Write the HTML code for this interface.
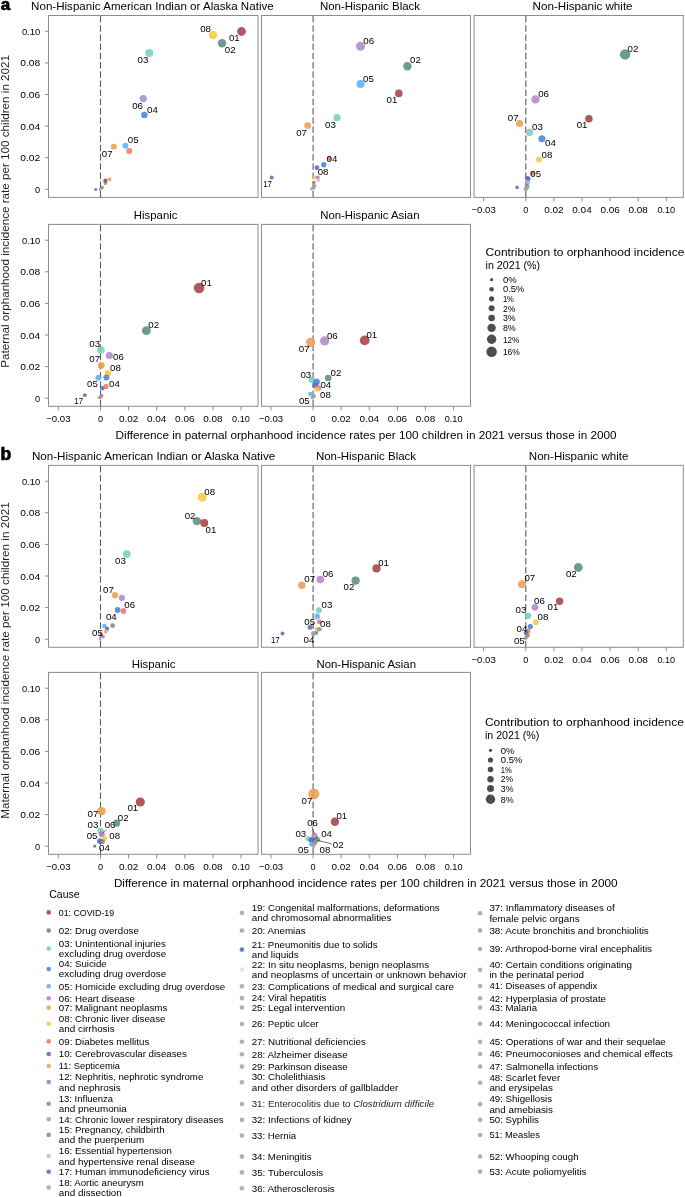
<!DOCTYPE html>
<html><head><meta charset="utf-8"><style>
html,body{margin:0;padding:0;background:#fff;width:685px;height:1197px;overflow:hidden}
svg{display:block;will-change:transform}
text{font-family:"Liberation Sans",sans-serif}
</style></head><body>
<svg width="685" height="1197" viewBox="0 0 685 1197" font-family="Liberation Sans, sans-serif">
<rect width="685" height="1197" fill="#fff"/>
<text x="0.7" y="9.6" font-size="17" font-weight="bold" fill="#000" stroke="#000" stroke-width="0.7">a</text>
<text x="31.10" y="10.00" font-size="10.5" textLength="242.60" lengthAdjust="spacingAndGlyphs">Non-Hispanic American Indian or Alaska Native</text>
<text x="319.90" y="10.00" font-size="10.5" textLength="100.20" lengthAdjust="spacingAndGlyphs">Non-Hispanic Black</text>
<text x="532.60" y="10.00" font-size="10.5" textLength="100.00" lengthAdjust="spacingAndGlyphs">Non-Hispanic white</text>
<rect x="48.5" y="15.5" width="209.50" height="181.90" fill="none" stroke="#8c8c8c" stroke-width="1"/>
<line x1="100.5" y1="16.0" x2="100.5" y2="197.4" stroke="#5c5c5c" stroke-width="1.1" stroke-dasharray="6.5 2.7"/>
<line x1="45.0" y1="189.30" x2="48.5" y2="189.30" stroke="#8c8c8c" stroke-width="1"/>
<text x="40.20" y="192.85" font-size="9.5" text-anchor="end" textLength="5.10" lengthAdjust="spacingAndGlyphs">0</text>
<line x1="45.0" y1="157.70" x2="48.5" y2="157.70" stroke="#8c8c8c" stroke-width="1"/>
<text x="40.20" y="161.25" font-size="9.5" text-anchor="end" textLength="20.00" lengthAdjust="spacingAndGlyphs">0.02</text>
<line x1="45.0" y1="126.10" x2="48.5" y2="126.10" stroke="#8c8c8c" stroke-width="1"/>
<text x="40.20" y="129.65" font-size="9.5" text-anchor="end" textLength="20.00" lengthAdjust="spacingAndGlyphs">0.04</text>
<line x1="45.0" y1="94.50" x2="48.5" y2="94.50" stroke="#8c8c8c" stroke-width="1"/>
<text x="40.20" y="98.05" font-size="9.5" text-anchor="end" textLength="20.00" lengthAdjust="spacingAndGlyphs">0.06</text>
<line x1="45.0" y1="62.90" x2="48.5" y2="62.90" stroke="#8c8c8c" stroke-width="1"/>
<text x="40.20" y="66.45" font-size="9.5" text-anchor="end" textLength="20.00" lengthAdjust="spacingAndGlyphs">0.08</text>
<line x1="45.0" y1="31.30" x2="48.5" y2="31.30" stroke="#8c8c8c" stroke-width="1"/>
<text x="40.20" y="34.85" font-size="9.5" text-anchor="end" textLength="18.30" lengthAdjust="spacingAndGlyphs">0.10</text>
<rect x="261.5" y="15.5" width="209.00" height="181.90" fill="none" stroke="#8c8c8c" stroke-width="1"/>
<line x1="313.1" y1="16.0" x2="313.1" y2="197.4" stroke="#5c5c5c" stroke-width="1.1" stroke-dasharray="6.5 2.7"/>
<rect x="474.1" y="15.5" width="209.20" height="181.90" fill="none" stroke="#8c8c8c" stroke-width="1"/>
<line x1="525.8" y1="16.0" x2="525.8" y2="197.4" stroke="#5c5c5c" stroke-width="1.1" stroke-dasharray="6.5 2.7"/>
<line x1="483.65" y1="197.4" x2="483.65" y2="201.4" stroke="#8c8c8c" stroke-width="1"/>
<text x="483.65" y="212.90" font-size="9.5" text-anchor="middle" textLength="24.40" lengthAdjust="spacingAndGlyphs">−0.03</text>
<line x1="525.80" y1="197.4" x2="525.80" y2="201.4" stroke="#8c8c8c" stroke-width="1"/>
<text x="525.80" y="212.90" font-size="9.5" text-anchor="middle" textLength="5.10" lengthAdjust="spacingAndGlyphs">0</text>
<line x1="553.90" y1="197.4" x2="553.90" y2="201.4" stroke="#8c8c8c" stroke-width="1"/>
<text x="553.90" y="212.90" font-size="9.5" text-anchor="middle" textLength="19.40" lengthAdjust="spacingAndGlyphs">0.02</text>
<line x1="582.00" y1="197.4" x2="582.00" y2="201.4" stroke="#8c8c8c" stroke-width="1"/>
<text x="582.00" y="212.90" font-size="9.5" text-anchor="middle" textLength="19.40" lengthAdjust="spacingAndGlyphs">0.04</text>
<line x1="610.10" y1="197.4" x2="610.10" y2="201.4" stroke="#8c8c8c" stroke-width="1"/>
<text x="610.10" y="212.90" font-size="9.5" text-anchor="middle" textLength="19.40" lengthAdjust="spacingAndGlyphs">0.06</text>
<line x1="638.20" y1="197.4" x2="638.20" y2="201.4" stroke="#8c8c8c" stroke-width="1"/>
<text x="638.20" y="212.90" font-size="9.5" text-anchor="middle" textLength="19.40" lengthAdjust="spacingAndGlyphs">0.08</text>
<line x1="666.30" y1="197.4" x2="666.30" y2="201.4" stroke="#8c8c8c" stroke-width="1"/>
<text x="666.30" y="212.90" font-size="9.5" text-anchor="middle" textLength="17.80" lengthAdjust="spacingAndGlyphs">0.10</text>
<text x="133.80" y="218.80" font-size="10.5" textLength="43.70" lengthAdjust="spacingAndGlyphs">Hispanic</text>
<text x="320.20" y="218.80" font-size="10.5" textLength="99.30" lengthAdjust="spacingAndGlyphs">Non-Hispanic Asian</text>
<rect x="48.5" y="224.4" width="209.50" height="181.90" fill="none" stroke="#8c8c8c" stroke-width="1"/>
<line x1="100.5" y1="224.9" x2="100.5" y2="406.3" stroke="#5c5c5c" stroke-width="1.1" stroke-dasharray="6.5 2.7"/>
<line x1="45.0" y1="398.20" x2="48.5" y2="398.20" stroke="#8c8c8c" stroke-width="1"/>
<text x="40.20" y="401.75" font-size="9.5" text-anchor="end" textLength="5.10" lengthAdjust="spacingAndGlyphs">0</text>
<line x1="45.0" y1="366.60" x2="48.5" y2="366.60" stroke="#8c8c8c" stroke-width="1"/>
<text x="40.20" y="370.15" font-size="9.5" text-anchor="end" textLength="20.00" lengthAdjust="spacingAndGlyphs">0.02</text>
<line x1="45.0" y1="335.00" x2="48.5" y2="335.00" stroke="#8c8c8c" stroke-width="1"/>
<text x="40.20" y="338.55" font-size="9.5" text-anchor="end" textLength="20.00" lengthAdjust="spacingAndGlyphs">0.04</text>
<line x1="45.0" y1="303.40" x2="48.5" y2="303.40" stroke="#8c8c8c" stroke-width="1"/>
<text x="40.20" y="306.95" font-size="9.5" text-anchor="end" textLength="20.00" lengthAdjust="spacingAndGlyphs">0.06</text>
<line x1="45.0" y1="271.80" x2="48.5" y2="271.80" stroke="#8c8c8c" stroke-width="1"/>
<text x="40.20" y="275.35" font-size="9.5" text-anchor="end" textLength="20.00" lengthAdjust="spacingAndGlyphs">0.08</text>
<line x1="45.0" y1="240.20" x2="48.5" y2="240.20" stroke="#8c8c8c" stroke-width="1"/>
<text x="40.20" y="243.75" font-size="9.5" text-anchor="end" textLength="18.30" lengthAdjust="spacingAndGlyphs">0.10</text>
<line x1="58.35" y1="406.3" x2="58.35" y2="410.3" stroke="#8c8c8c" stroke-width="1"/>
<text x="58.35" y="421.80" font-size="9.5" text-anchor="middle" textLength="24.40" lengthAdjust="spacingAndGlyphs">−0.03</text>
<line x1="100.50" y1="406.3" x2="100.50" y2="410.3" stroke="#8c8c8c" stroke-width="1"/>
<text x="100.50" y="421.80" font-size="9.5" text-anchor="middle" textLength="5.10" lengthAdjust="spacingAndGlyphs">0</text>
<line x1="128.60" y1="406.3" x2="128.60" y2="410.3" stroke="#8c8c8c" stroke-width="1"/>
<text x="128.60" y="421.80" font-size="9.5" text-anchor="middle" textLength="19.40" lengthAdjust="spacingAndGlyphs">0.02</text>
<line x1="156.70" y1="406.3" x2="156.70" y2="410.3" stroke="#8c8c8c" stroke-width="1"/>
<text x="156.70" y="421.80" font-size="9.5" text-anchor="middle" textLength="19.40" lengthAdjust="spacingAndGlyphs">0.04</text>
<line x1="184.80" y1="406.3" x2="184.80" y2="410.3" stroke="#8c8c8c" stroke-width="1"/>
<text x="184.80" y="421.80" font-size="9.5" text-anchor="middle" textLength="19.40" lengthAdjust="spacingAndGlyphs">0.06</text>
<line x1="212.90" y1="406.3" x2="212.90" y2="410.3" stroke="#8c8c8c" stroke-width="1"/>
<text x="212.90" y="421.80" font-size="9.5" text-anchor="middle" textLength="19.40" lengthAdjust="spacingAndGlyphs">0.08</text>
<line x1="241.00" y1="406.3" x2="241.00" y2="410.3" stroke="#8c8c8c" stroke-width="1"/>
<text x="241.00" y="421.80" font-size="9.5" text-anchor="middle" textLength="17.80" lengthAdjust="spacingAndGlyphs">0.10</text>
<rect x="261.5" y="224.4" width="209.00" height="181.90" fill="none" stroke="#8c8c8c" stroke-width="1"/>
<line x1="313.1" y1="224.9" x2="313.1" y2="406.3" stroke="#5c5c5c" stroke-width="1.1" stroke-dasharray="6.5 2.7"/>
<line x1="270.95" y1="406.3" x2="270.95" y2="410.3" stroke="#8c8c8c" stroke-width="1"/>
<text x="270.95" y="421.80" font-size="9.5" text-anchor="middle" textLength="24.40" lengthAdjust="spacingAndGlyphs">−0.03</text>
<line x1="313.10" y1="406.3" x2="313.10" y2="410.3" stroke="#8c8c8c" stroke-width="1"/>
<text x="313.10" y="421.80" font-size="9.5" text-anchor="middle" textLength="5.10" lengthAdjust="spacingAndGlyphs">0</text>
<line x1="341.20" y1="406.3" x2="341.20" y2="410.3" stroke="#8c8c8c" stroke-width="1"/>
<text x="341.20" y="421.80" font-size="9.5" text-anchor="middle" textLength="19.40" lengthAdjust="spacingAndGlyphs">0.02</text>
<line x1="369.30" y1="406.3" x2="369.30" y2="410.3" stroke="#8c8c8c" stroke-width="1"/>
<text x="369.30" y="421.80" font-size="9.5" text-anchor="middle" textLength="19.40" lengthAdjust="spacingAndGlyphs">0.04</text>
<line x1="397.40" y1="406.3" x2="397.40" y2="410.3" stroke="#8c8c8c" stroke-width="1"/>
<text x="397.40" y="421.80" font-size="9.5" text-anchor="middle" textLength="19.40" lengthAdjust="spacingAndGlyphs">0.06</text>
<line x1="425.50" y1="406.3" x2="425.50" y2="410.3" stroke="#8c8c8c" stroke-width="1"/>
<text x="425.50" y="421.80" font-size="9.5" text-anchor="middle" textLength="19.40" lengthAdjust="spacingAndGlyphs">0.08</text>
<line x1="453.60" y1="406.3" x2="453.60" y2="410.3" stroke="#8c8c8c" stroke-width="1"/>
<text x="453.60" y="421.80" font-size="9.5" text-anchor="middle" textLength="17.80" lengthAdjust="spacingAndGlyphs">0.10</text>
<text x="115.60" y="438.60" font-size="10.5" textLength="501.00" lengthAdjust="spacingAndGlyphs">Difference in paternal orphanhood incidence rates per 100 children in 2021 versus those in 2000</text>
<text transform="translate(9.3 211.4) rotate(-90)" font-size="10.5" text-anchor="middle" textLength="312.8" lengthAdjust="spacingAndGlyphs" fill="#1e1e1e">Paternal orphanhood incidence rate per 100 children in 2021</text>
<circle cx="241.5" cy="31.5" r="4.4" fill="#A43D42" fill-opacity="0.86"/>
<circle cx="213.1" cy="35.0" r="4.2" fill="#F3C83F" fill-opacity="0.86"/>
<circle cx="222.1" cy="43.2" r="4.2" fill="#55897F" fill-opacity="0.86"/>
<circle cx="149.3" cy="53.0" r="4.0" fill="#74CDC1" fill-opacity="0.86"/>
<circle cx="143.3" cy="98.6" r="3.6" fill="#AF86C6" fill-opacity="0.86"/>
<circle cx="144.4" cy="115.0" r="3.3" fill="#4582D5" fill-opacity="0.86"/>
<circle cx="125.4" cy="145.7" r="3.0" fill="#56B0F5" fill-opacity="0.86"/>
<circle cx="113.8" cy="146.7" r="3.0" fill="#EA9C4B" fill-opacity="0.86"/>
<circle cx="129.2" cy="151.0" r="3.0" fill="#EE7467" fill-opacity="0.86"/>
<circle cx="109.5" cy="179.3" r="2.0" fill="#EFA352" fill-opacity="0.86"/>
<circle cx="105.4" cy="182.9" r="2.0" fill="#8C82CB" fill-opacity="0.86"/>
<circle cx="105.4" cy="180.7" r="2.1" fill="#9A3D56" fill-opacity="0.86"/>
<circle cx="102.2" cy="187.6" r="1.8" fill="#9A8270" fill-opacity="0.86"/>
<circle cx="100.3" cy="189.3" r="1.6" fill="#A0A0A0" fill-opacity="0.86"/>
<circle cx="95.7" cy="189.5" r="1.5" fill="#5868C4" fill-opacity="0.86"/>
<text x="234.30" y="41.40" font-size="9.8" text-anchor="middle" textLength="10.80" lengthAdjust="spacingAndGlyphs">01</text>
<text x="205.60" y="31.80" font-size="9.8" text-anchor="middle" textLength="10.80" lengthAdjust="spacingAndGlyphs">08</text>
<text x="230.20" y="52.90" font-size="9.8" text-anchor="middle" textLength="10.80" lengthAdjust="spacingAndGlyphs">02</text>
<text x="142.90" y="63.40" font-size="9.8" text-anchor="middle" textLength="10.80" lengthAdjust="spacingAndGlyphs">03</text>
<text x="137.60" y="108.90" font-size="9.8" text-anchor="middle" textLength="10.80" lengthAdjust="spacingAndGlyphs">06</text>
<text x="152.40" y="113.40" font-size="9.8" text-anchor="middle" textLength="10.80" lengthAdjust="spacingAndGlyphs">04</text>
<text x="133.20" y="143.30" font-size="9.8" text-anchor="middle" textLength="10.80" lengthAdjust="spacingAndGlyphs">05</text>
<text x="107.20" y="156.90" font-size="9.8" text-anchor="middle" textLength="10.80" lengthAdjust="spacingAndGlyphs">07</text>
<circle cx="360.5" cy="46.3" r="4.5" fill="#AF86C6" fill-opacity="0.86"/>
<circle cx="407.4" cy="66.2" r="4.2" fill="#55897F" fill-opacity="0.86"/>
<circle cx="360.5" cy="84.0" r="4.0" fill="#56B0F5" fill-opacity="0.86"/>
<circle cx="398.8" cy="93.4" r="3.8" fill="#A43D42" fill-opacity="0.86"/>
<circle cx="337.1" cy="117.6" r="3.6" fill="#74CDC1" fill-opacity="0.86"/>
<circle cx="307.7" cy="125.6" r="3.4" fill="#EA9C4B" fill-opacity="0.86"/>
<circle cx="329.3" cy="158.6" r="2.5" fill="#EE7467" fill-opacity="0.86"/>
<circle cx="323.8" cy="164.7" r="2.7" fill="#4582D5" fill-opacity="0.86"/>
<circle cx="316.9" cy="167.7" r="2.4" fill="#5868C4" fill-opacity="0.86"/>
<circle cx="271.7" cy="177.6" r="2.0" fill="#5868C4" fill-opacity="0.86"/>
<circle cx="314.7" cy="177.2" r="2.0" fill="#F3C83F" fill-opacity="0.86"/>
<circle cx="317.7" cy="177.4" r="2.0" fill="#8C82CB" fill-opacity="0.86"/>
<circle cx="318.4" cy="179.8" r="2.0" fill="#CFBFAE" fill-opacity="0.86"/>
<circle cx="314.0" cy="182.3" r="1.8" fill="#CB6C70" fill-opacity="0.86"/>
<circle cx="314.7" cy="185.9" r="1.8" fill="#A0A0A0" fill-opacity="0.86"/>
<circle cx="311.8" cy="188.8" r="1.8" fill="#A0A0A0" fill-opacity="0.86"/>
<circle cx="314.0" cy="188.0" r="1.6" fill="#A0A0A0" fill-opacity="0.86"/>
<text x="368.70" y="43.80" font-size="9.8" text-anchor="middle" textLength="10.80" lengthAdjust="spacingAndGlyphs">06</text>
<text x="415.40" y="63.40" font-size="9.8" text-anchor="middle" textLength="10.80" lengthAdjust="spacingAndGlyphs">02</text>
<text x="368.50" y="81.80" font-size="9.8" text-anchor="middle" textLength="10.80" lengthAdjust="spacingAndGlyphs">05</text>
<text x="392.00" y="103.10" font-size="9.8" text-anchor="middle" textLength="10.80" lengthAdjust="spacingAndGlyphs">01</text>
<text x="330.50" y="127.80" font-size="9.8" text-anchor="middle" textLength="10.80" lengthAdjust="spacingAndGlyphs">03</text>
<text x="301.60" y="136.10" font-size="9.8" text-anchor="middle" textLength="10.80" lengthAdjust="spacingAndGlyphs">07</text>
<text x="332.00" y="162.10" font-size="9.8" text-anchor="middle" textLength="10.80" lengthAdjust="spacingAndGlyphs">04</text>
<text x="323.10" y="174.80" font-size="9.8" text-anchor="middle" textLength="10.80" lengthAdjust="spacingAndGlyphs">08</text>
<text x="267.60" y="187.40" font-size="9.8" text-anchor="middle" textLength="8.80" lengthAdjust="spacingAndGlyphs">17</text>
<circle cx="625.1" cy="54.4" r="5.2" fill="#55897F" fill-opacity="0.86"/>
<circle cx="535.5" cy="99.4" r="4.2" fill="#AF86C6" fill-opacity="0.86"/>
<circle cx="588.9" cy="118.7" r="3.8" fill="#A43D42" fill-opacity="0.86"/>
<circle cx="519.6" cy="123.5" r="3.6" fill="#EA9C4B" fill-opacity="0.86"/>
<circle cx="529.5" cy="132.3" r="3.6" fill="#74CDC1" fill-opacity="0.86"/>
<circle cx="541.9" cy="138.8" r="3.5" fill="#4582D5" fill-opacity="0.86"/>
<circle cx="539.0" cy="159.6" r="3.0" fill="#F3C83F" fill-opacity="0.86"/>
<circle cx="532.7" cy="173.2" r="2.5" fill="#EE7467" fill-opacity="0.86"/>
<circle cx="528.5" cy="179.0" r="2.3" fill="#56B0F5" fill-opacity="0.86"/>
<circle cx="527.6" cy="178.6" r="2.5" fill="#5868C4" fill-opacity="0.86"/>
<circle cx="527.8" cy="182.2" r="2.2" fill="#A3A3A3" fill-opacity="0.86"/>
<circle cx="527.8" cy="184.8" r="2.2" fill="#CFBFAE" fill-opacity="0.86"/>
<circle cx="526.8" cy="185.8" r="2.0" fill="#CB6C70" fill-opacity="0.86"/>
<circle cx="527.3" cy="187.3" r="2.0" fill="#56B0F5" fill-opacity="0.86"/>
<circle cx="525.9" cy="189.0" r="2.4" fill="#A0A0A0" fill-opacity="0.86"/>
<circle cx="517.1" cy="187.4" r="1.8" fill="#5868C4" fill-opacity="0.86"/>
<text x="633.00" y="51.60" font-size="9.8" text-anchor="middle" textLength="10.80" lengthAdjust="spacingAndGlyphs">02</text>
<text x="543.60" y="96.80" font-size="9.8" text-anchor="middle" textLength="10.80" lengthAdjust="spacingAndGlyphs">06</text>
<text x="582.10" y="128.20" font-size="9.8" text-anchor="middle" textLength="10.80" lengthAdjust="spacingAndGlyphs">01</text>
<text x="513.20" y="121.00" font-size="9.8" text-anchor="middle" textLength="10.80" lengthAdjust="spacingAndGlyphs">07</text>
<text x="537.40" y="130.00" font-size="9.8" text-anchor="middle" textLength="10.80" lengthAdjust="spacingAndGlyphs">03</text>
<text x="550.50" y="146.30" font-size="9.8" text-anchor="middle" textLength="10.80" lengthAdjust="spacingAndGlyphs">04</text>
<text x="547.00" y="157.70" font-size="9.8" text-anchor="middle" textLength="10.80" lengthAdjust="spacingAndGlyphs">08</text>
<text x="535.70" y="177.00" font-size="9.8" text-anchor="middle" textLength="10.80" lengthAdjust="spacingAndGlyphs">05</text>
<circle cx="199.1" cy="288.0" r="5.3" fill="#A43D42" fill-opacity="0.86"/>
<circle cx="146.4" cy="330.7" r="4.4" fill="#55897F" fill-opacity="0.86"/>
<circle cx="100.9" cy="350.1" r="3.9" fill="#74CDC1" fill-opacity="0.86"/>
<circle cx="109.3" cy="355.5" r="3.6" fill="#AF86C6" fill-opacity="0.86"/>
<circle cx="101.3" cy="365.4" r="3.4" fill="#EA9C4B" fill-opacity="0.86"/>
<circle cx="107.9" cy="373.0" r="3.2" fill="#F3C83F" fill-opacity="0.86"/>
<circle cx="98.4" cy="377.8" r="3.0" fill="#56B0F5" fill-opacity="0.86"/>
<circle cx="106.4" cy="377.4" r="3.0" fill="#4582D5" fill-opacity="0.86"/>
<circle cx="106.0" cy="386.4" r="2.6" fill="#EE7467" fill-opacity="0.86"/>
<circle cx="102.3" cy="388.3" r="2.3" fill="#5868C4" fill-opacity="0.86"/>
<circle cx="84.8" cy="395.2" r="1.9" fill="#5868C4" fill-opacity="0.86"/>
<circle cx="101.5" cy="395.5" r="1.8" fill="#8C82CB" fill-opacity="0.86"/>
<circle cx="101.0" cy="396.5" r="1.8" fill="#CB6C70" fill-opacity="0.86"/>
<circle cx="100.5" cy="397.5" r="1.8" fill="#A0A0A0" fill-opacity="0.86"/>
<circle cx="99.0" cy="397.5" r="1.6" fill="#A0A0A0" fill-opacity="0.86"/>
<text x="206.40" y="285.60" font-size="9.8" text-anchor="middle" textLength="10.80" lengthAdjust="spacingAndGlyphs">01</text>
<text x="153.70" y="328.30" font-size="9.8" text-anchor="middle" textLength="10.80" lengthAdjust="spacingAndGlyphs">02</text>
<text x="94.70" y="347.40" font-size="9.8" text-anchor="middle" textLength="10.80" lengthAdjust="spacingAndGlyphs">03</text>
<text x="118.40" y="359.80" font-size="9.8" text-anchor="middle" textLength="10.80" lengthAdjust="spacingAndGlyphs">06</text>
<text x="94.70" y="362.30" font-size="9.8" text-anchor="middle" textLength="10.80" lengthAdjust="spacingAndGlyphs">07</text>
<text x="115.50" y="370.80" font-size="9.8" text-anchor="middle" textLength="10.80" lengthAdjust="spacingAndGlyphs">08</text>
<text x="92.40" y="387.40" font-size="9.8" text-anchor="middle" textLength="10.80" lengthAdjust="spacingAndGlyphs">05</text>
<text x="114.50" y="386.80" font-size="9.8" text-anchor="middle" textLength="10.80" lengthAdjust="spacingAndGlyphs">04</text>
<text x="78.70" y="404.20" font-size="9.8" text-anchor="middle" textLength="8.80" lengthAdjust="spacingAndGlyphs">17</text>
<circle cx="310.7" cy="342.3" r="4.6" fill="#EA9C4B" fill-opacity="0.86"/>
<circle cx="324.6" cy="340.9" r="4.6" fill="#AF86C6" fill-opacity="0.86"/>
<circle cx="364.7" cy="340.4" r="4.9" fill="#A43D42" fill-opacity="0.86"/>
<circle cx="328.2" cy="378.0" r="3.3" fill="#55897F" fill-opacity="0.86"/>
<circle cx="311.9" cy="379.9" r="3.2" fill="#74CDC1" fill-opacity="0.86"/>
<circle cx="316.7" cy="381.8" r="3.2" fill="#4582D5" fill-opacity="0.86"/>
<circle cx="315.5" cy="385.4" r="3.0" fill="#5868C4" fill-opacity="0.86"/>
<circle cx="318.5" cy="387.9" r="2.7" fill="#EE7467" fill-opacity="0.86"/>
<circle cx="317.0" cy="389.3" r="2.5" fill="#F3C83F" fill-opacity="0.86"/>
<circle cx="310.4" cy="394.0" r="2.3" fill="#56B0F5" fill-opacity="0.86"/>
<circle cx="314.1" cy="395.9" r="2.0" fill="#A0A0A0" fill-opacity="0.86"/>
<circle cx="312.5" cy="397.5" r="2.0" fill="#A0A0A0" fill-opacity="0.86"/>
<text x="304.20" y="352.00" font-size="9.8" text-anchor="middle" textLength="10.80" lengthAdjust="spacingAndGlyphs">07</text>
<text x="332.30" y="338.50" font-size="9.8" text-anchor="middle" textLength="10.80" lengthAdjust="spacingAndGlyphs">06</text>
<text x="371.80" y="337.80" font-size="9.8" text-anchor="middle" textLength="10.80" lengthAdjust="spacingAndGlyphs">01</text>
<text x="336.00" y="375.80" font-size="9.8" text-anchor="middle" textLength="10.80" lengthAdjust="spacingAndGlyphs">02</text>
<text x="305.80" y="377.90" font-size="9.8" text-anchor="middle" textLength="10.80" lengthAdjust="spacingAndGlyphs">03</text>
<text x="325.80" y="387.90" font-size="9.8" text-anchor="middle" textLength="10.80" lengthAdjust="spacingAndGlyphs">04</text>
<text x="304.30" y="403.50" font-size="9.8" text-anchor="middle" textLength="10.80" lengthAdjust="spacingAndGlyphs">05</text>
<text x="325.50" y="398.40" font-size="9.8" text-anchor="middle" textLength="10.80" lengthAdjust="spacingAndGlyphs">08</text>
<text x="485.60" y="255.50" font-size="10.5" textLength="198.80" lengthAdjust="spacingAndGlyphs">Contribution to orphanhood incidence</text>
<text x="485.60" y="268.60" font-size="10.5" textLength="54.50" lengthAdjust="spacingAndGlyphs">in 2021 (%)</text>
<circle cx="491.6" cy="279.7" r="1.6" fill="#4d4d4d"/>
<text x="502.90" y="282.90" font-size="9.2" textLength="13.80" lengthAdjust="spacingAndGlyphs">0%</text>
<circle cx="491.6" cy="289.2" r="2.3" fill="#4d4d4d"/>
<text x="502.90" y="292.40" font-size="9.2" textLength="21.60" lengthAdjust="spacingAndGlyphs">0.5%</text>
<circle cx="491.6" cy="298.8" r="2.6" fill="#4d4d4d"/>
<text x="502.90" y="302.00" font-size="9.2" textLength="11.00" lengthAdjust="spacingAndGlyphs">1%</text>
<circle cx="491.6" cy="308.3" r="3.0" fill="#4d4d4d"/>
<text x="502.90" y="311.50" font-size="9.2" textLength="12.40" lengthAdjust="spacingAndGlyphs">2%</text>
<circle cx="491.6" cy="318.0" r="3.3" fill="#4d4d4d"/>
<text x="502.90" y="321.20" font-size="9.2" textLength="12.70" lengthAdjust="spacingAndGlyphs">3%</text>
<circle cx="491.6" cy="327.9" r="4.2" fill="#4d4d4d"/>
<text x="502.90" y="331.10" font-size="9.2" textLength="12.90" lengthAdjust="spacingAndGlyphs">8%</text>
<circle cx="491.6" cy="339.3" r="4.7" fill="#4d4d4d"/>
<text x="502.90" y="342.50" font-size="9.2" textLength="16.40" lengthAdjust="spacingAndGlyphs">12%</text>
<circle cx="491.6" cy="351.7" r="5.25" fill="#4d4d4d"/>
<text x="502.90" y="354.90" font-size="9.2" textLength="16.80" lengthAdjust="spacingAndGlyphs">16%</text>
<text x="0.6" y="460.0" font-size="17.6" font-weight="bold" fill="#000" stroke="#000" stroke-width="0.7">b</text>
<text x="31.90" y="460.30" font-size="10.5" textLength="243.30" lengthAdjust="spacingAndGlyphs">Non-Hispanic American Indian or Alaska Native</text>
<text x="315.90" y="460.30" font-size="10.5" textLength="100.20" lengthAdjust="spacingAndGlyphs">Non-Hispanic Black</text>
<text x="528.80" y="460.30" font-size="10.5" textLength="99.70" lengthAdjust="spacingAndGlyphs">Non-Hispanic white</text>
<rect x="48.5" y="465.4" width="209.50" height="181.90" fill="none" stroke="#8c8c8c" stroke-width="1"/>
<line x1="100.5" y1="465.9" x2="100.5" y2="647.3" stroke="#5c5c5c" stroke-width="1.1" stroke-dasharray="6.5 2.7"/>
<line x1="45.0" y1="639.20" x2="48.5" y2="639.20" stroke="#8c8c8c" stroke-width="1"/>
<text x="40.20" y="642.75" font-size="9.5" text-anchor="end" textLength="5.10" lengthAdjust="spacingAndGlyphs">0</text>
<line x1="45.0" y1="607.60" x2="48.5" y2="607.60" stroke="#8c8c8c" stroke-width="1"/>
<text x="40.20" y="611.15" font-size="9.5" text-anchor="end" textLength="20.00" lengthAdjust="spacingAndGlyphs">0.02</text>
<line x1="45.0" y1="576.00" x2="48.5" y2="576.00" stroke="#8c8c8c" stroke-width="1"/>
<text x="40.20" y="579.55" font-size="9.5" text-anchor="end" textLength="20.00" lengthAdjust="spacingAndGlyphs">0.04</text>
<line x1="45.0" y1="544.40" x2="48.5" y2="544.40" stroke="#8c8c8c" stroke-width="1"/>
<text x="40.20" y="547.95" font-size="9.5" text-anchor="end" textLength="20.00" lengthAdjust="spacingAndGlyphs">0.06</text>
<line x1="45.0" y1="512.80" x2="48.5" y2="512.80" stroke="#8c8c8c" stroke-width="1"/>
<text x="40.20" y="516.35" font-size="9.5" text-anchor="end" textLength="20.00" lengthAdjust="spacingAndGlyphs">0.08</text>
<line x1="45.0" y1="481.20" x2="48.5" y2="481.20" stroke="#8c8c8c" stroke-width="1"/>
<text x="40.20" y="484.75" font-size="9.5" text-anchor="end" textLength="18.30" lengthAdjust="spacingAndGlyphs">0.10</text>
<rect x="261.5" y="465.4" width="209.00" height="181.90" fill="none" stroke="#8c8c8c" stroke-width="1"/>
<line x1="313.1" y1="465.9" x2="313.1" y2="647.3" stroke="#5c5c5c" stroke-width="1.1" stroke-dasharray="6.5 2.7"/>
<rect x="474.1" y="465.4" width="209.20" height="181.90" fill="none" stroke="#8c8c8c" stroke-width="1"/>
<line x1="525.8" y1="465.9" x2="525.8" y2="647.3" stroke="#5c5c5c" stroke-width="1.1" stroke-dasharray="6.5 2.7"/>
<line x1="483.65" y1="647.3" x2="483.65" y2="651.3" stroke="#8c8c8c" stroke-width="1"/>
<text x="483.65" y="662.80" font-size="9.5" text-anchor="middle" textLength="24.40" lengthAdjust="spacingAndGlyphs">−0.03</text>
<line x1="525.80" y1="647.3" x2="525.80" y2="651.3" stroke="#8c8c8c" stroke-width="1"/>
<text x="525.80" y="662.80" font-size="9.5" text-anchor="middle" textLength="5.10" lengthAdjust="spacingAndGlyphs">0</text>
<line x1="553.90" y1="647.3" x2="553.90" y2="651.3" stroke="#8c8c8c" stroke-width="1"/>
<text x="553.90" y="662.80" font-size="9.5" text-anchor="middle" textLength="19.40" lengthAdjust="spacingAndGlyphs">0.02</text>
<line x1="582.00" y1="647.3" x2="582.00" y2="651.3" stroke="#8c8c8c" stroke-width="1"/>
<text x="582.00" y="662.80" font-size="9.5" text-anchor="middle" textLength="19.40" lengthAdjust="spacingAndGlyphs">0.04</text>
<line x1="610.10" y1="647.3" x2="610.10" y2="651.3" stroke="#8c8c8c" stroke-width="1"/>
<text x="610.10" y="662.80" font-size="9.5" text-anchor="middle" textLength="19.40" lengthAdjust="spacingAndGlyphs">0.06</text>
<line x1="638.20" y1="647.3" x2="638.20" y2="651.3" stroke="#8c8c8c" stroke-width="1"/>
<text x="638.20" y="662.80" font-size="9.5" text-anchor="middle" textLength="19.40" lengthAdjust="spacingAndGlyphs">0.08</text>
<line x1="666.30" y1="647.3" x2="666.30" y2="651.3" stroke="#8c8c8c" stroke-width="1"/>
<text x="666.30" y="662.80" font-size="9.5" text-anchor="middle" textLength="17.80" lengthAdjust="spacingAndGlyphs">0.10</text>
<text x="131.70" y="667.60" font-size="10.5" textLength="43.80" lengthAdjust="spacingAndGlyphs">Hispanic</text>
<text x="316.40" y="667.60" font-size="10.5" textLength="99.70" lengthAdjust="spacingAndGlyphs">Non-Hispanic Asian</text>
<rect x="48.5" y="672.4" width="209.50" height="181.90" fill="none" stroke="#8c8c8c" stroke-width="1"/>
<line x1="100.5" y1="672.9" x2="100.5" y2="854.3" stroke="#5c5c5c" stroke-width="1.1" stroke-dasharray="6.5 2.7"/>
<line x1="45.0" y1="846.20" x2="48.5" y2="846.20" stroke="#8c8c8c" stroke-width="1"/>
<text x="40.20" y="849.75" font-size="9.5" text-anchor="end" textLength="5.10" lengthAdjust="spacingAndGlyphs">0</text>
<line x1="45.0" y1="814.60" x2="48.5" y2="814.60" stroke="#8c8c8c" stroke-width="1"/>
<text x="40.20" y="818.15" font-size="9.5" text-anchor="end" textLength="20.00" lengthAdjust="spacingAndGlyphs">0.02</text>
<line x1="45.0" y1="783.00" x2="48.5" y2="783.00" stroke="#8c8c8c" stroke-width="1"/>
<text x="40.20" y="786.55" font-size="9.5" text-anchor="end" textLength="20.00" lengthAdjust="spacingAndGlyphs">0.04</text>
<line x1="45.0" y1="751.40" x2="48.5" y2="751.40" stroke="#8c8c8c" stroke-width="1"/>
<text x="40.20" y="754.95" font-size="9.5" text-anchor="end" textLength="20.00" lengthAdjust="spacingAndGlyphs">0.06</text>
<line x1="45.0" y1="719.80" x2="48.5" y2="719.80" stroke="#8c8c8c" stroke-width="1"/>
<text x="40.20" y="723.35" font-size="9.5" text-anchor="end" textLength="20.00" lengthAdjust="spacingAndGlyphs">0.08</text>
<line x1="45.0" y1="688.20" x2="48.5" y2="688.20" stroke="#8c8c8c" stroke-width="1"/>
<text x="40.20" y="691.75" font-size="9.5" text-anchor="end" textLength="18.30" lengthAdjust="spacingAndGlyphs">0.10</text>
<line x1="58.35" y1="854.3" x2="58.35" y2="858.3" stroke="#8c8c8c" stroke-width="1"/>
<text x="58.35" y="869.80" font-size="9.5" text-anchor="middle" textLength="24.40" lengthAdjust="spacingAndGlyphs">−0.03</text>
<line x1="100.50" y1="854.3" x2="100.50" y2="858.3" stroke="#8c8c8c" stroke-width="1"/>
<text x="100.50" y="869.80" font-size="9.5" text-anchor="middle" textLength="5.10" lengthAdjust="spacingAndGlyphs">0</text>
<line x1="128.60" y1="854.3" x2="128.60" y2="858.3" stroke="#8c8c8c" stroke-width="1"/>
<text x="128.60" y="869.80" font-size="9.5" text-anchor="middle" textLength="19.40" lengthAdjust="spacingAndGlyphs">0.02</text>
<line x1="156.70" y1="854.3" x2="156.70" y2="858.3" stroke="#8c8c8c" stroke-width="1"/>
<text x="156.70" y="869.80" font-size="9.5" text-anchor="middle" textLength="19.40" lengthAdjust="spacingAndGlyphs">0.04</text>
<line x1="184.80" y1="854.3" x2="184.80" y2="858.3" stroke="#8c8c8c" stroke-width="1"/>
<text x="184.80" y="869.80" font-size="9.5" text-anchor="middle" textLength="19.40" lengthAdjust="spacingAndGlyphs">0.06</text>
<line x1="212.90" y1="854.3" x2="212.90" y2="858.3" stroke="#8c8c8c" stroke-width="1"/>
<text x="212.90" y="869.80" font-size="9.5" text-anchor="middle" textLength="19.40" lengthAdjust="spacingAndGlyphs">0.08</text>
<line x1="241.00" y1="854.3" x2="241.00" y2="858.3" stroke="#8c8c8c" stroke-width="1"/>
<text x="241.00" y="869.80" font-size="9.5" text-anchor="middle" textLength="17.80" lengthAdjust="spacingAndGlyphs">0.10</text>
<rect x="261.5" y="672.4" width="209.00" height="181.90" fill="none" stroke="#8c8c8c" stroke-width="1"/>
<line x1="313.1" y1="672.9" x2="313.1" y2="854.3" stroke="#5c5c5c" stroke-width="1.1" stroke-dasharray="6.5 2.7"/>
<line x1="270.95" y1="854.3" x2="270.95" y2="858.3" stroke="#8c8c8c" stroke-width="1"/>
<text x="270.95" y="869.80" font-size="9.5" text-anchor="middle" textLength="24.40" lengthAdjust="spacingAndGlyphs">−0.03</text>
<line x1="313.10" y1="854.3" x2="313.10" y2="858.3" stroke="#8c8c8c" stroke-width="1"/>
<text x="313.10" y="869.80" font-size="9.5" text-anchor="middle" textLength="5.10" lengthAdjust="spacingAndGlyphs">0</text>
<line x1="341.20" y1="854.3" x2="341.20" y2="858.3" stroke="#8c8c8c" stroke-width="1"/>
<text x="341.20" y="869.80" font-size="9.5" text-anchor="middle" textLength="19.40" lengthAdjust="spacingAndGlyphs">0.02</text>
<line x1="369.30" y1="854.3" x2="369.30" y2="858.3" stroke="#8c8c8c" stroke-width="1"/>
<text x="369.30" y="869.80" font-size="9.5" text-anchor="middle" textLength="19.40" lengthAdjust="spacingAndGlyphs">0.04</text>
<line x1="397.40" y1="854.3" x2="397.40" y2="858.3" stroke="#8c8c8c" stroke-width="1"/>
<text x="397.40" y="869.80" font-size="9.5" text-anchor="middle" textLength="19.40" lengthAdjust="spacingAndGlyphs">0.06</text>
<line x1="425.50" y1="854.3" x2="425.50" y2="858.3" stroke="#8c8c8c" stroke-width="1"/>
<text x="425.50" y="869.80" font-size="9.5" text-anchor="middle" textLength="19.40" lengthAdjust="spacingAndGlyphs">0.08</text>
<line x1="453.60" y1="854.3" x2="453.60" y2="858.3" stroke="#8c8c8c" stroke-width="1"/>
<text x="453.60" y="869.80" font-size="9.5" text-anchor="middle" textLength="17.80" lengthAdjust="spacingAndGlyphs">0.10</text>
<text x="113.90" y="886.60" font-size="10.5" textLength="503.60" lengthAdjust="spacingAndGlyphs">Difference in maternal orphanhood incidence rates per 100 children in 2021 versus those in 2000</text>
<text transform="translate(9.4 660.5) rotate(-90)" font-size="10.5" text-anchor="middle" textLength="316.6" lengthAdjust="spacingAndGlyphs" fill="#1e1e1e">Maternal orphanhood incidence rate per 100 children in 2021</text>
<circle cx="202.2" cy="497.3" r="4.5" fill="#F3C83F" fill-opacity="0.86"/>
<circle cx="196.9" cy="521.1" r="4.2" fill="#55897F" fill-opacity="0.86"/>
<circle cx="204.3" cy="523.0" r="4.0" fill="#A43D42" fill-opacity="0.86"/>
<circle cx="126.8" cy="554.1" r="3.9" fill="#74CDC1" fill-opacity="0.86"/>
<circle cx="115.0" cy="595.2" r="3.1" fill="#EA9C4B" fill-opacity="0.86"/>
<circle cx="121.8" cy="597.8" r="3.1" fill="#AF86C6" fill-opacity="0.86"/>
<circle cx="117.6" cy="610.0" r="2.9" fill="#4582D5" fill-opacity="0.86"/>
<circle cx="123.4" cy="611.0" r="2.9" fill="#EE7467" fill-opacity="0.86"/>
<circle cx="112.6" cy="625.7" r="2.4" fill="#9A8270" fill-opacity="0.86"/>
<circle cx="104.4" cy="626.1" r="2.3" fill="#56B0F5" fill-opacity="0.86"/>
<circle cx="107.1" cy="628.7" r="2.1" fill="#5868C4" fill-opacity="0.86"/>
<circle cx="105.8" cy="631.7" r="2.1" fill="#EFA352" fill-opacity="0.86"/>
<circle cx="101.4" cy="635.5" r="1.8" fill="#CB6C70" fill-opacity="0.86"/>
<circle cx="103.1" cy="636.6" r="1.8" fill="#8C82CB" fill-opacity="0.86"/>
<circle cx="100.1" cy="638.9" r="1.6" fill="#A0A0A0" fill-opacity="0.86"/>
<text x="209.70" y="494.60" font-size="9.8" text-anchor="middle" textLength="10.80" lengthAdjust="spacingAndGlyphs">08</text>
<text x="190.10" y="518.60" font-size="9.8" text-anchor="middle" textLength="10.80" lengthAdjust="spacingAndGlyphs">02</text>
<text x="211.00" y="532.60" font-size="9.8" text-anchor="middle" textLength="10.80" lengthAdjust="spacingAndGlyphs">01</text>
<text x="120.50" y="564.00" font-size="9.8" text-anchor="middle" textLength="10.80" lengthAdjust="spacingAndGlyphs">03</text>
<text x="108.40" y="592.50" font-size="9.8" text-anchor="middle" textLength="10.80" lengthAdjust="spacingAndGlyphs">07</text>
<text x="129.70" y="607.60" font-size="9.8" text-anchor="middle" textLength="10.80" lengthAdjust="spacingAndGlyphs">06</text>
<text x="111.30" y="619.70" font-size="9.8" text-anchor="middle" textLength="10.80" lengthAdjust="spacingAndGlyphs">04</text>
<text x="97.50" y="635.80" font-size="9.8" text-anchor="middle" textLength="10.80" lengthAdjust="spacingAndGlyphs">05</text>
<circle cx="376.5" cy="568.4" r="4.1" fill="#A43D42" fill-opacity="0.86"/>
<circle cx="355.6" cy="580.7" r="4.1" fill="#55897F" fill-opacity="0.86"/>
<circle cx="320.3" cy="579.6" r="3.8" fill="#AF86C6" fill-opacity="0.86"/>
<circle cx="301.9" cy="585.2" r="3.7" fill="#EA9C4B" fill-opacity="0.86"/>
<circle cx="318.9" cy="610.3" r="3.0" fill="#74CDC1" fill-opacity="0.86"/>
<circle cx="317.2" cy="616.4" r="2.8" fill="#56B0F5" fill-opacity="0.86"/>
<circle cx="319.3" cy="621.9" r="2.3" fill="#EE7467" fill-opacity="0.86"/>
<circle cx="310.1" cy="627.3" r="2.5" fill="#5868C4" fill-opacity="0.86"/>
<circle cx="316.2" cy="628.7" r="2.0" fill="#F3C83F" fill-opacity="0.86"/>
<circle cx="319.3" cy="629.3" r="2.3" fill="#9A8270" fill-opacity="0.86"/>
<circle cx="316.2" cy="632.8" r="2.0" fill="#4582D5" fill-opacity="0.86"/>
<circle cx="313.5" cy="633.4" r="2.5" fill="#A0A0A0" fill-opacity="0.86"/>
<circle cx="282.5" cy="633.4" r="2.0" fill="#5868C4" fill-opacity="0.86"/>
<text x="383.60" y="565.90" font-size="9.8" text-anchor="middle" textLength="10.80" lengthAdjust="spacingAndGlyphs">01</text>
<text x="348.90" y="590.40" font-size="9.8" text-anchor="middle" textLength="10.80" lengthAdjust="spacingAndGlyphs">02</text>
<text x="328.10" y="577.10" font-size="9.8" text-anchor="middle" textLength="10.80" lengthAdjust="spacingAndGlyphs">06</text>
<text x="309.70" y="582.20" font-size="9.8" text-anchor="middle" textLength="10.80" lengthAdjust="spacingAndGlyphs">07</text>
<text x="327.00" y="608.00" font-size="9.8" text-anchor="middle" textLength="10.80" lengthAdjust="spacingAndGlyphs">03</text>
<text x="325.40" y="626.80" font-size="9.8" text-anchor="middle" textLength="10.80" lengthAdjust="spacingAndGlyphs">08</text>
<text x="309.70" y="625.10" font-size="9.8" text-anchor="middle" textLength="10.80" lengthAdjust="spacingAndGlyphs">05</text>
<text x="275.30" y="642.70" font-size="9.8" text-anchor="middle" textLength="8.80" lengthAdjust="spacingAndGlyphs">17</text>
<text x="309.00" y="642.70" font-size="9.8" text-anchor="middle" textLength="10.80" lengthAdjust="spacingAndGlyphs">04</text>
<circle cx="578.3" cy="567.5" r="4.4" fill="#55897F" fill-opacity="0.86"/>
<circle cx="521.9" cy="584.2" r="3.9" fill="#EA9C4B" fill-opacity="0.86"/>
<circle cx="559.6" cy="601.2" r="3.7" fill="#A43D42" fill-opacity="0.86"/>
<circle cx="535.0" cy="607.3" r="3.4" fill="#AF86C6" fill-opacity="0.86"/>
<circle cx="528.0" cy="615.7" r="3.1" fill="#74CDC1" fill-opacity="0.86"/>
<circle cx="535.9" cy="622.2" r="2.9" fill="#F3C83F" fill-opacity="0.86"/>
<circle cx="530.3" cy="626.6" r="2.7" fill="#4582D5" fill-opacity="0.86"/>
<circle cx="528.0" cy="631.0" r="2.5" fill="#EE7467" fill-opacity="0.86"/>
<circle cx="525.9" cy="632.7" r="2.3" fill="#5868C4" fill-opacity="0.86"/>
<circle cx="527.7" cy="635.3" r="2.2" fill="#9A8270" fill-opacity="0.86"/>
<circle cx="526.0" cy="637.5" r="2.0" fill="#A0A0A0" fill-opacity="0.86"/>
<circle cx="525.5" cy="638.5" r="1.8" fill="#A0A0A0" fill-opacity="0.86"/>
<text x="571.30" y="577.20" font-size="9.8" text-anchor="middle" textLength="10.80" lengthAdjust="spacingAndGlyphs">02</text>
<text x="529.80" y="581.20" font-size="9.8" text-anchor="middle" textLength="10.80" lengthAdjust="spacingAndGlyphs">07</text>
<text x="552.90" y="610.20" font-size="9.8" text-anchor="middle" textLength="10.80" lengthAdjust="spacingAndGlyphs">01</text>
<text x="539.40" y="604.40" font-size="9.8" text-anchor="middle" textLength="10.80" lengthAdjust="spacingAndGlyphs">06</text>
<text x="521.00" y="613.20" font-size="9.8" text-anchor="middle" textLength="10.80" lengthAdjust="spacingAndGlyphs">03</text>
<text x="542.90" y="620.10" font-size="9.8" text-anchor="middle" textLength="10.80" lengthAdjust="spacingAndGlyphs">08</text>
<text x="521.90" y="631.50" font-size="9.8" text-anchor="middle" textLength="10.80" lengthAdjust="spacingAndGlyphs">04</text>
<text x="519.30" y="644.10" font-size="9.8" text-anchor="middle" textLength="10.80" lengthAdjust="spacingAndGlyphs">05</text>
<circle cx="140.3" cy="802.0" r="4.6" fill="#A43D42" fill-opacity="0.86"/>
<circle cx="101.5" cy="811.2" r="4.1" fill="#EA9C4B" fill-opacity="0.86"/>
<circle cx="116.6" cy="823.1" r="3.6" fill="#55897F" fill-opacity="0.86"/>
<circle cx="100.5" cy="831.0" r="3.2" fill="#74CDC1" fill-opacity="0.86"/>
<circle cx="101.8" cy="834.2" r="3.0" fill="#AF86C6" fill-opacity="0.86"/>
<circle cx="104.4" cy="838.2" r="2.8" fill="#F3C83F" fill-opacity="0.86"/>
<circle cx="99.6" cy="841.2" r="2.6" fill="#4582D5" fill-opacity="0.86"/>
<circle cx="100.5" cy="841.5" r="2.4" fill="#5868C4" fill-opacity="0.86"/>
<circle cx="102.6" cy="841.7" r="2.4" fill="#9A8270" fill-opacity="0.86"/>
<circle cx="94.7" cy="846.1" r="1.7" fill="#5868C4" fill-opacity="0.86"/>
<text x="132.80" y="811.20" font-size="9.8" text-anchor="middle" textLength="10.80" lengthAdjust="spacingAndGlyphs">01</text>
<text x="93.00" y="816.80" font-size="9.8" text-anchor="middle" textLength="10.80" lengthAdjust="spacingAndGlyphs">07</text>
<text x="123.20" y="820.70" font-size="9.8" text-anchor="middle" textLength="10.80" lengthAdjust="spacingAndGlyphs">02</text>
<text x="93.00" y="828.20" font-size="9.8" text-anchor="middle" textLength="10.80" lengthAdjust="spacingAndGlyphs">03</text>
<text x="110.10" y="828.20" font-size="9.8" text-anchor="middle" textLength="10.80" lengthAdjust="spacingAndGlyphs">06</text>
<text x="114.70" y="839.20" font-size="9.8" text-anchor="middle" textLength="10.80" lengthAdjust="spacingAndGlyphs">08</text>
<text x="92.10" y="839.20" font-size="9.8" text-anchor="middle" textLength="10.80" lengthAdjust="spacingAndGlyphs">05</text>
<text x="104.40" y="851.00" font-size="9.8" text-anchor="middle" textLength="10.80" lengthAdjust="spacingAndGlyphs">04</text>
<line x1="106.1" y1="829.6" x2="102.2" y2="833.6" stroke="#333" stroke-width="0.7"/>
<circle cx="313.8" cy="793.9" r="5.5" fill="#EA9C4B" fill-opacity="0.86"/>
<circle cx="334.9" cy="821.8" r="4.2" fill="#A43D42" fill-opacity="0.86"/>
<circle cx="314.4" cy="835.2" r="2.8" fill="#AF86C6" fill-opacity="0.86"/>
<circle cx="308.2" cy="838.8" r="2.7" fill="#74CDC1" fill-opacity="0.86"/>
<circle cx="312.2" cy="839.5" r="2.7" fill="#4582D5" fill-opacity="0.86"/>
<circle cx="311.0" cy="840.0" r="2.5" fill="#5868C4" fill-opacity="0.86"/>
<circle cx="317.4" cy="839.5" r="2.6" fill="#55897F" fill-opacity="0.86"/>
<circle cx="311.5" cy="844.1" r="2.5" fill="#56B0F5" fill-opacity="0.86"/>
<circle cx="315.2" cy="842.8" r="2.3" fill="#9A8270" fill-opacity="0.86"/>
<circle cx="313.5" cy="846.1" r="2.0" fill="#A0A0A0" fill-opacity="0.86"/>
<text x="306.90" y="803.90" font-size="9.8" text-anchor="middle" textLength="10.80" lengthAdjust="spacingAndGlyphs">07</text>
<text x="341.80" y="819.00" font-size="9.8" text-anchor="middle" textLength="10.80" lengthAdjust="spacingAndGlyphs">01</text>
<text x="312.60" y="825.60" font-size="9.8" text-anchor="middle" textLength="10.80" lengthAdjust="spacingAndGlyphs">06</text>
<text x="300.80" y="837.40" font-size="9.8" text-anchor="middle" textLength="10.80" lengthAdjust="spacingAndGlyphs">03</text>
<text x="326.60" y="837.40" font-size="9.8" text-anchor="middle" textLength="10.80" lengthAdjust="spacingAndGlyphs">04</text>
<text x="338.20" y="848.30" font-size="9.8" text-anchor="middle" textLength="10.80" lengthAdjust="spacingAndGlyphs">02</text>
<text x="303.40" y="852.90" font-size="9.8" text-anchor="middle" textLength="10.80" lengthAdjust="spacingAndGlyphs">05</text>
<text x="324.90" y="852.90" font-size="9.8" text-anchor="middle" textLength="10.80" lengthAdjust="spacingAndGlyphs">08</text>
<line x1="312.2" y1="827.0" x2="313.9" y2="833.6" stroke="#333" stroke-width="0.7"/>
<line x1="318.1" y1="836.2" x2="313.5" y2="840.0" stroke="#333" stroke-width="0.7"/>
<line x1="331.9" y1="844.1" x2="318.1" y2="840.4" stroke="#333" stroke-width="0.7"/>
<text x="484.90" y="726.40" font-size="10.5" textLength="198.90" lengthAdjust="spacingAndGlyphs">Contribution to orphanhood incidence</text>
<text x="484.90" y="739.20" font-size="10.5" textLength="54.50" lengthAdjust="spacingAndGlyphs">in 2021 (%)</text>
<circle cx="490.5" cy="750.3" r="1.6" fill="#4d4d4d"/>
<text x="500.80" y="753.50" font-size="9.2" textLength="13.80" lengthAdjust="spacingAndGlyphs">0%</text>
<circle cx="490.5" cy="760.0" r="2.6" fill="#4d4d4d"/>
<text x="500.80" y="763.20" font-size="9.2" textLength="21.60" lengthAdjust="spacingAndGlyphs">0.5%</text>
<circle cx="490.5" cy="769.5" r="2.8" fill="#4d4d4d"/>
<text x="500.80" y="772.70" font-size="9.2" textLength="11.00" lengthAdjust="spacingAndGlyphs">1%</text>
<circle cx="490.5" cy="779.2" r="3.2" fill="#4d4d4d"/>
<text x="500.80" y="782.40" font-size="9.2" textLength="12.40" lengthAdjust="spacingAndGlyphs">2%</text>
<circle cx="490.5" cy="788.6" r="3.5" fill="#4d4d4d"/>
<text x="500.80" y="791.80" font-size="9.2" textLength="12.70" lengthAdjust="spacingAndGlyphs">3%</text>
<circle cx="490.5" cy="799.3" r="4.7" fill="#4d4d4d"/>
<text x="500.80" y="802.50" font-size="9.2" textLength="12.90" lengthAdjust="spacingAndGlyphs">8%</text>
<text x="49.30" y="898.00" font-size="10.5" textLength="30.30" lengthAdjust="spacingAndGlyphs">Cause</text>
<circle cx="48.7" cy="912.40" r="2.3" fill="#A43D42" fill-opacity="0.86"/>
<text x="58.80" y="915.70" font-size="9" textLength="55.32" lengthAdjust="spacingAndGlyphs">01: COVID-19</text>
<circle cx="48.7" cy="930.50" r="2.3" fill="#55897F" fill-opacity="0.86"/>
<text x="58.80" y="933.80" font-size="9" textLength="80.04" lengthAdjust="spacingAndGlyphs">02: Drug overdose</text>
<circle cx="48.7" cy="948.60" r="2.3" fill="#74CDC1" fill-opacity="0.86"/>
<text x="58.80" y="946.80" font-size="9" textLength="107.01" lengthAdjust="spacingAndGlyphs">03: Unintentional injuries</text>
<text x="58.80" y="957.00" font-size="9" textLength="107.36" lengthAdjust="spacingAndGlyphs">excluding drug overdose</text>
<circle cx="48.7" cy="969.00" r="2.3" fill="#4582D5" fill-opacity="0.86"/>
<text x="58.80" y="967.20" font-size="9" textLength="47.88" lengthAdjust="spacingAndGlyphs">04: Suicide</text>
<text x="58.80" y="977.40" font-size="9" textLength="107.36" lengthAdjust="spacingAndGlyphs">excluding drug overdose</text>
<circle cx="48.7" cy="986.20" r="2.3" fill="#56B0F5" fill-opacity="0.86"/>
<text x="58.80" y="989.50" font-size="9" textLength="166.48" lengthAdjust="spacingAndGlyphs">05: Homicide excluding drug overdose</text>
<circle cx="48.7" cy="998.20" r="2.3" fill="#AF86C6" fill-opacity="0.86"/>
<text x="58.80" y="1001.50" font-size="9" textLength="76.19" lengthAdjust="spacingAndGlyphs">06: Heart disease</text>
<circle cx="48.7" cy="1007.60" r="2.3" fill="#EA9C4B" fill-opacity="0.86"/>
<text x="58.80" y="1010.90" font-size="9" textLength="108.56" lengthAdjust="spacingAndGlyphs">07: Malignant neoplasms</text>
<circle cx="48.7" cy="1023.80" r="2.3" fill="#F3C83F" fill-opacity="0.86"/>
<text x="58.80" y="1022.00" font-size="9" textLength="106.75" lengthAdjust="spacingAndGlyphs">08: Chronic liver disease</text>
<text x="58.80" y="1032.20" font-size="9" textLength="55.87" lengthAdjust="spacingAndGlyphs">and cirrhosis</text>
<circle cx="48.7" cy="1041.40" r="2.3" fill="#EE7467" fill-opacity="0.86"/>
<text x="58.80" y="1044.70" font-size="9" textLength="90.49" lengthAdjust="spacingAndGlyphs">09: Diabetes mellitus</text>
<circle cx="48.7" cy="1054.00" r="2.3" fill="#5868C4" fill-opacity="0.86"/>
<text x="58.80" y="1057.30" font-size="9" textLength="127.96" lengthAdjust="spacingAndGlyphs">10: Cerebrovascular diseases</text>
<circle cx="48.7" cy="1066.00" r="2.3" fill="#EFA352" fill-opacity="0.86"/>
<text x="58.80" y="1069.30" font-size="9" textLength="61.18" lengthAdjust="spacingAndGlyphs">11: Septicemia</text>
<circle cx="48.7" cy="1082.05" r="2.3" fill="#8C82CB" fill-opacity="0.86"/>
<text x="58.80" y="1080.10" font-size="9" textLength="144.51" lengthAdjust="spacingAndGlyphs">12: Nephritis, nephrotic syndrome</text>
<text x="58.80" y="1090.60" font-size="9" textLength="61.94" lengthAdjust="spacingAndGlyphs">and nephrosis</text>
<circle cx="48.7" cy="1103.70" r="2.3" fill="#CB6C70" fill-opacity="0.86"/>
<text x="58.80" y="1102.10" font-size="9" textLength="54.34" lengthAdjust="spacingAndGlyphs">13: Influenza</text>
<text x="58.80" y="1111.90" font-size="9" textLength="68.00" lengthAdjust="spacingAndGlyphs">and pneumonia</text>
<circle cx="48.7" cy="1119.20" r="2.3" fill="#A3A3A3" fill-opacity="0.86"/>
<text x="58.80" y="1122.50" font-size="9" textLength="164.86" lengthAdjust="spacingAndGlyphs">14: Chronic lower respiratory diseases</text>
<circle cx="48.7" cy="1134.90" r="2.3" fill="#9A8270" fill-opacity="0.86"/>
<text x="58.80" y="1133.20" font-size="9" textLength="105.75" lengthAdjust="spacingAndGlyphs">15: Pregnancy, childbirth</text>
<text x="58.80" y="1143.20" font-size="9" textLength="85.35" lengthAdjust="spacingAndGlyphs">and the puerperium</text>
<circle cx="48.7" cy="1156.10" r="2.3" fill="#CFBFAE" fill-opacity="0.86"/>
<text x="58.80" y="1154.20" font-size="9" textLength="113.16" lengthAdjust="spacingAndGlyphs">16: Essential hypertension</text>
<text x="58.80" y="1164.60" font-size="9" textLength="136.28" lengthAdjust="spacingAndGlyphs">and hypertensive renal disease</text>
<circle cx="48.7" cy="1171.70" r="2.3" fill="#5868C4" fill-opacity="0.86"/>
<text x="58.80" y="1175.00" font-size="9" textLength="150.80" lengthAdjust="spacingAndGlyphs">17: Human immunodeficiency virus</text>
<circle cx="48.7" cy="1187.55" r="2.3" fill="#A3A3A3" fill-opacity="0.86"/>
<text x="58.80" y="1185.60" font-size="9" textLength="85.08" lengthAdjust="spacingAndGlyphs">18: Aortic aneurysm</text>
<text x="58.80" y="1196.10" font-size="9" textLength="63.04" lengthAdjust="spacingAndGlyphs">and dissection</text>
<circle cx="241.9" cy="912.95" r="2.3" fill="#A3A3A3" fill-opacity="0.86"/>
<text x="251.70" y="911.30" font-size="9" textLength="187.98" lengthAdjust="spacingAndGlyphs">19: Congenital malformations, deformations</text>
<text x="251.70" y="921.20" font-size="9" textLength="139.81" lengthAdjust="spacingAndGlyphs">and chromosomal abnormalities</text>
<circle cx="241.9" cy="930.50" r="2.3" fill="#A3A3A3" fill-opacity="0.86"/>
<text x="251.70" y="933.80" font-size="9" textLength="53.93" lengthAdjust="spacingAndGlyphs">20: Anemias</text>
<circle cx="241.9" cy="949.60" r="2.3" fill="#3D6FC8" fill-opacity="0.86"/>
<text x="251.70" y="947.90" font-size="9" textLength="125.87" lengthAdjust="spacingAndGlyphs">21: Pneumonitis due to solids</text>
<text x="251.70" y="957.90" font-size="9" textLength="47.08" lengthAdjust="spacingAndGlyphs">and liquids</text>
<circle cx="241.9" cy="969.50" r="2.3" fill="#C9EEE9" fill-opacity="0.86"/>
<text x="251.70" y="967.70" font-size="9" textLength="177.40" lengthAdjust="spacingAndGlyphs">22: In situ neoplasms, benign neoplasms</text>
<text x="251.70" y="977.90" font-size="9" textLength="214.77" lengthAdjust="spacingAndGlyphs">and neoplasms of uncertain or unknown behavior</text>
<circle cx="241.9" cy="986.20" r="2.3" fill="#A3A3A3" fill-opacity="0.86"/>
<text x="251.70" y="989.50" font-size="9" textLength="202.29" lengthAdjust="spacingAndGlyphs">23: Complications of medical and surgical care</text>
<circle cx="241.9" cy="998.10" r="2.3" fill="#A3A3A3" fill-opacity="0.86"/>
<text x="251.70" y="1001.40" font-size="9" textLength="74.59" lengthAdjust="spacingAndGlyphs">24: Viral hepatitis</text>
<circle cx="241.9" cy="1007.50" r="2.3" fill="#A3A3A3" fill-opacity="0.86"/>
<text x="251.70" y="1010.80" font-size="9" textLength="93.41" lengthAdjust="spacingAndGlyphs">25: Legal intervention</text>
<circle cx="241.9" cy="1024.00" r="2.3" fill="#A3A3A3" fill-opacity="0.86"/>
<text x="251.70" y="1027.30" font-size="9" textLength="66.88" lengthAdjust="spacingAndGlyphs">26: Peptic ulcer</text>
<circle cx="241.9" cy="1041.70" r="2.3" fill="#A3A3A3" fill-opacity="0.86"/>
<text x="251.70" y="1045.00" font-size="9" textLength="114.15" lengthAdjust="spacingAndGlyphs">27: Nutritional deficiencies</text>
<circle cx="241.9" cy="1054.30" r="2.3" fill="#A3A3A3" fill-opacity="0.86"/>
<text x="251.70" y="1057.60" font-size="9" textLength="96.04" lengthAdjust="spacingAndGlyphs">28: Alzheimer disease</text>
<circle cx="241.9" cy="1066.60" r="2.3" fill="#A3A3A3" fill-opacity="0.86"/>
<text x="251.70" y="1069.90" font-size="9" textLength="96.05" lengthAdjust="spacingAndGlyphs">29: Parkinson disease</text>
<circle cx="241.9" cy="1082.35" r="2.3" fill="#A3A3A3" fill-opacity="0.86"/>
<text x="251.70" y="1080.40" font-size="9" textLength="73.69" lengthAdjust="spacingAndGlyphs">30: Cholelithiasis</text>
<text x="251.70" y="1090.90" font-size="9" textLength="146.48" lengthAdjust="spacingAndGlyphs">and other disorders of gallbladder</text>
<circle cx="241.9" cy="1104.10" r="2.3" fill="#A3A3A3" fill-opacity="0.86"/>
<text x="251.7" y="1107.40" font-size="9" textLength="182.52" lengthAdjust="spacingAndGlyphs" fill="#1e1e1e">31: Enterocolitis due to <tspan font-style="italic">Clostridium difficile</tspan></text>
<circle cx="241.9" cy="1119.90" r="2.3" fill="#A3A3A3" fill-opacity="0.86"/>
<text x="251.70" y="1123.20" font-size="9" textLength="100.01" lengthAdjust="spacingAndGlyphs">32: Infections of kidney</text>
<circle cx="241.9" cy="1135.60" r="2.3" fill="#A3A3A3" fill-opacity="0.86"/>
<text x="251.70" y="1138.90" font-size="9" textLength="44.52" lengthAdjust="spacingAndGlyphs">33: Hernia</text>
<circle cx="241.9" cy="1156.60" r="2.3" fill="#A3A3A3" fill-opacity="0.86"/>
<text x="251.70" y="1159.90" font-size="9" textLength="59.83" lengthAdjust="spacingAndGlyphs">34: Meningitis</text>
<circle cx="241.9" cy="1172.40" r="2.3" fill="#A3A3A3" fill-opacity="0.86"/>
<text x="251.70" y="1175.70" font-size="9" textLength="71.58" lengthAdjust="spacingAndGlyphs">35: Tuberculosis</text>
<circle cx="241.9" cy="1188.20" r="2.3" fill="#A3A3A3" fill-opacity="0.86"/>
<text x="251.70" y="1191.50" font-size="9" textLength="83.08" lengthAdjust="spacingAndGlyphs">36: Atherosclerosis</text>
<circle cx="480.1" cy="913.20" r="2.3" fill="#A3A3A3" fill-opacity="0.86"/>
<text x="489.40" y="911.20" font-size="9" textLength="125.30" lengthAdjust="spacingAndGlyphs">37: Inflammatory diseases of</text>
<text x="489.40" y="921.80" font-size="9" textLength="90.29" lengthAdjust="spacingAndGlyphs">female pelvic organs</text>
<circle cx="480.1" cy="930.40" r="2.3" fill="#A3A3A3" fill-opacity="0.86"/>
<text x="489.40" y="933.70" font-size="9" textLength="159.38" lengthAdjust="spacingAndGlyphs">38: Acute bronchitis and bronchiolitis</text>
<circle cx="480.1" cy="949.00" r="2.3" fill="#A3A3A3" fill-opacity="0.86"/>
<text x="489.40" y="952.30" font-size="9" textLength="162.63" lengthAdjust="spacingAndGlyphs">39: Arthropod-borne viral encephalitis</text>
<circle cx="480.1" cy="969.75" r="2.3" fill="#A3A3A3" fill-opacity="0.86"/>
<text x="489.40" y="967.80" font-size="9" textLength="142.53" lengthAdjust="spacingAndGlyphs">40: Certain conditions originating</text>
<text x="489.40" y="978.30" font-size="9" textLength="94.46" lengthAdjust="spacingAndGlyphs">in the perinatal period</text>
<circle cx="480.1" cy="986.00" r="2.3" fill="#A3A3A3" fill-opacity="0.86"/>
<text x="489.40" y="989.30" font-size="9" textLength="107.91" lengthAdjust="spacingAndGlyphs">41: Diseases of appendix</text>
<circle cx="480.1" cy="998.20" r="2.3" fill="#A3A3A3" fill-opacity="0.86"/>
<text x="489.40" y="1001.50" font-size="9" textLength="116.66" lengthAdjust="spacingAndGlyphs">42: Hyperplasia of prostate</text>
<circle cx="480.1" cy="1007.50" r="2.3" fill="#A3A3A3" fill-opacity="0.86"/>
<text x="489.40" y="1010.80" font-size="9" textLength="47.72" lengthAdjust="spacingAndGlyphs">43: Malaria</text>
<circle cx="480.1" cy="1023.80" r="2.3" fill="#A3A3A3" fill-opacity="0.86"/>
<text x="489.40" y="1027.10" font-size="9" textLength="120.67" lengthAdjust="spacingAndGlyphs">44: Meningococcal infection</text>
<circle cx="480.1" cy="1041.80" r="2.3" fill="#A3A3A3" fill-opacity="0.86"/>
<text x="489.40" y="1045.10" font-size="9" textLength="176.40" lengthAdjust="spacingAndGlyphs">45: Operations of war and their sequelae</text>
<circle cx="480.1" cy="1054.00" r="2.3" fill="#A3A3A3" fill-opacity="0.86"/>
<text x="489.40" y="1057.30" font-size="9" textLength="183.59" lengthAdjust="spacingAndGlyphs">46: Pneumoconioses and chemical effects</text>
<circle cx="480.1" cy="1066.60" r="2.3" fill="#A3A3A3" fill-opacity="0.86"/>
<text x="489.40" y="1069.90" font-size="9" textLength="108.71" lengthAdjust="spacingAndGlyphs">47: Salmonella infections</text>
<circle cx="480.1" cy="1082.80" r="2.3" fill="#A3A3A3" fill-opacity="0.86"/>
<text x="489.40" y="1081.10" font-size="9" textLength="70.73" lengthAdjust="spacingAndGlyphs">48: Scarlet fever</text>
<text x="489.40" y="1091.10" font-size="9" textLength="63.58" lengthAdjust="spacingAndGlyphs">and erysipelas</text>
<circle cx="480.1" cy="1104.15" r="2.3" fill="#A3A3A3" fill-opacity="0.86"/>
<text x="489.40" y="1102.30" font-size="9" textLength="62.73" lengthAdjust="spacingAndGlyphs">49: Shigellosis</text>
<text x="489.40" y="1112.60" font-size="9" textLength="63.58" lengthAdjust="spacingAndGlyphs">and amebiasis</text>
<circle cx="480.1" cy="1119.90" r="2.3" fill="#A3A3A3" fill-opacity="0.86"/>
<text x="489.40" y="1123.20" font-size="9" textLength="49.52" lengthAdjust="spacingAndGlyphs">50: Syphilis</text>
<circle cx="480.1" cy="1135.00" r="2.3" fill="#A3A3A3" fill-opacity="0.86"/>
<text x="489.40" y="1138.30" font-size="9" textLength="50.52" lengthAdjust="spacingAndGlyphs">51: Measles</text>
<circle cx="480.1" cy="1156.50" r="2.3" fill="#A3A3A3" fill-opacity="0.86"/>
<text x="489.40" y="1159.80" font-size="9" textLength="89.21" lengthAdjust="spacingAndGlyphs">52: Whooping cough</text>
<circle cx="480.1" cy="1171.60" r="2.3" fill="#A3A3A3" fill-opacity="0.86"/>
<text x="489.40" y="1174.90" font-size="9" textLength="97.14" lengthAdjust="spacingAndGlyphs">53: Acute poliomyelitis</text>
</svg>
</body></html>
